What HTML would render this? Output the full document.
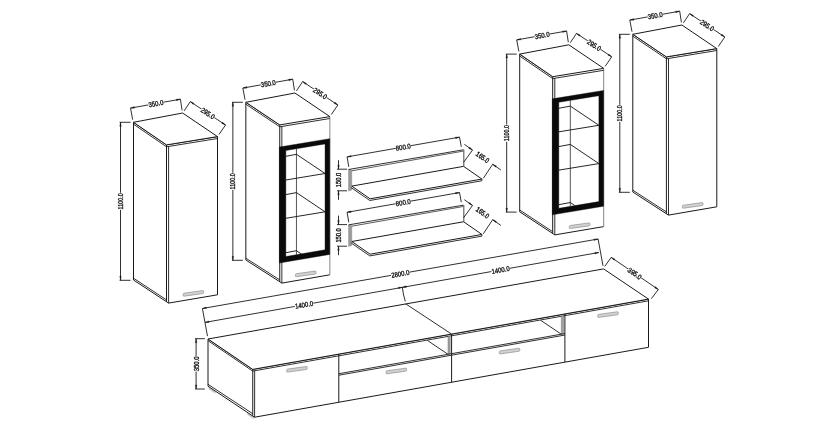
<!DOCTYPE html>
<html><head><meta charset="utf-8"><title>Furniture dimensions</title>
<style>
html,body{margin:0;padding:0;background:#fff;}
body{width:840px;height:430px;overflow:hidden;}
svg{display:block;}
svg text{font-family:"Liberation Sans",sans-serif;fill:#111;stroke:#111;stroke-width:0.34px;}
</style></head><body>
<svg width="840" height="430" viewBox="0 0 840 430" style="filter:grayscale(1)">
<rect width="840" height="430" fill="#fff"/>
<path d="M133.50 122.30 L133.50 280.00 L168.60 303.10 L217.50 294.80 L217.50 136.60 L166.50 144.90 Z" stroke="#1a1a1a" stroke-width="1.0" fill="#fff" />
<path d="M133.50 122.30 L182.60 113.00 L217.50 136.60 L166.50 144.90 Z" stroke="#1a1a1a" stroke-width="1.0" fill="#fff" />
<path d="M166.50 144.90 L166.50 301.70" stroke="#1a1a1a" stroke-width="1.0" fill="none" />
<path d="M133.50 124.20 L166.50 146.80 L217.50 138.50" stroke="#1a1a1a" stroke-width="0.9" fill="none" />
<path d="M133.50 278.20 L166.50 299.90" stroke="#1a1a1a" stroke-width="0.9" fill="none" />
<path d="M168.60 146.50 L168.60 303.10" stroke="#1a1a1a" stroke-width="0.9" fill="none" />
<path d="M184.10 293.20 L202.70 290.60 Q203.70 290.46 203.70 291.46 L203.70 292.46 Q203.70 293.46 202.70 293.60 L184.10 296.20 Q183.10 296.34 183.10 295.34 L183.10 294.34 Q183.10 293.34 184.10 293.20 Z" fill="#d2d2d2" stroke="#8c8c8c" stroke-width="0.7"/>
<path d="M132.70 119.70 L130.50 108.10" stroke="#1a1a1a" stroke-width="0.9" fill="none" />
<path d="M182.10 110.40 L180.40 99.20" stroke="#1a1a1a" stroke-width="0.9" fill="none" />
<path d="M130.50 108.10 L180.40 99.20" stroke="#1a1a1a" stroke-width="0.9" fill="none" />
<path d="M130.50 108.10 L134.58 108.19 L134.30 106.61 Z" stroke="#1a1a1a" stroke-width="0.3" fill="#1a1a1a" />
<path d="M180.40 99.20 L176.32 99.11 L176.60 100.69 Z" stroke="#1a1a1a" stroke-width="0.3" fill="#1a1a1a" />
<g transform="translate(155.95 103.56) rotate(-10.11)"><rect x="-7.73" y="-3.4" width="15.46" height="6.8" fill="#fff"/><text transform="scale(0.860 1)" x="0" y="2.5" text-anchor="middle" font-size="7.0">350.0</text></g>
<path d="M184.10 110.90 L190.30 101.60" stroke="#1a1a1a" stroke-width="0.9" fill="none" />
<path d="M219.00 134.50 L225.50 125.00" stroke="#1a1a1a" stroke-width="0.9" fill="none" />
<path d="M190.30 101.60 L225.50 125.00" stroke="#1a1a1a" stroke-width="0.9" fill="none" />
<path d="M190.30 101.60 L193.19 104.48 L194.07 103.15 Z" stroke="#1a1a1a" stroke-width="0.3" fill="#1a1a1a" />
<path d="M225.50 125.00 L222.61 122.12 L221.73 123.45 Z" stroke="#1a1a1a" stroke-width="0.3" fill="#1a1a1a" />
<g transform="translate(207.90 113.30) rotate(33.61)"><rect x="-7.73" y="-3.4" width="15.46" height="6.8" fill="#fff"/><text transform="scale(0.860 1)" x="0" y="2.5" text-anchor="middle" font-size="7.0">295.0</text></g>
<path d="M119.60 122.30 L130.50 122.30" stroke="#1a1a1a" stroke-width="0.9" fill="none" />
<path d="M119.60 280.30 L130.50 280.30" stroke="#1a1a1a" stroke-width="0.9" fill="none" />
<path d="M120.50 122.30 L120.50 280.30" stroke="#1a1a1a" stroke-width="0.9" fill="none" />
<path d="M120.50 122.30 L119.70 126.30 L121.30 126.30 Z" stroke="#1a1a1a" stroke-width="0.3" fill="#1a1a1a" />
<path d="M120.50 280.30 L121.30 276.30 L119.70 276.30 Z" stroke="#1a1a1a" stroke-width="0.3" fill="#1a1a1a" />
<g transform="translate(120.50 201.30) rotate(-90.00)"><rect x="-8.58" y="-3.4" width="17.15" height="6.8" fill="#fff"/><text transform="scale(0.783 1)" x="0" y="2.5" text-anchor="middle" font-size="7.0">1100.0</text></g>
<path d="M245.85 102.30 L245.85 260.00 L281.85 283.10 L329.85 274.80 L329.85 116.60 L279.75 124.90 Z" stroke="#1a1a1a" stroke-width="0" fill="#fff" />
<path d="M279.75 124.90 L245.85 102.30 L245.85 260.00 L281.85 283.10 L329.85 274.80" stroke="#1a1a1a" stroke-width="1.0" fill="none" />
<path d="M329.85 274.80 L329.85 116.60" stroke="#777" stroke-width="0.9" fill="none" />
<path d="M245.85 102.30 L294.95 93.00 L329.85 116.60 L279.75 124.90 Z" stroke="#1a1a1a" stroke-width="1.0" fill="#fff" />
<path d="M279.75 124.90 L279.75 281.70" stroke="#1a1a1a" stroke-width="1.0" fill="none" />
<path d="M245.85 104.20 L279.75 126.80 L329.85 118.50" stroke="#1a1a1a" stroke-width="0.9" fill="none" />
<path d="M245.85 258.20 L279.75 279.90" stroke="#1a1a1a" stroke-width="0.9" fill="none" />
<path d="M281.85 126.50 L281.85 283.10" stroke="#1a1a1a" stroke-width="0.9" fill="none" />
<clipPath id="clip245"><path d="M285.85 150.48 L325.05 143.93 L325.05 249.79 L285.85 256.52 Z"/></clipPath>
<g clip-path="url(#clip245)">
<path d="M296.45 122.30 L296.45 272.30" stroke="#555" stroke-width="1.0" fill="none" />
<path d="M283.85 180.33 L325.05 173.50 L296.45 154.30 L283.85 156.69" stroke="#1a1a1a" stroke-width="0.95" fill="none" />
<path d="M283.85 218.63 L325.05 211.80 L296.45 192.60 L283.85 194.99" stroke="#1a1a1a" stroke-width="0.95" fill="none" />
<path d="M283.85 276.73 L325.05 269.90 L296.45 250.70 L283.85 253.09" stroke="#1a1a1a" stroke-width="0.95" fill="none" />
</g>
<path d="M279.35 147.05 L329.75 138.64 L329.75 254.39 L279.35 263.06 Z M285.85 150.48 L285.85 256.52 L325.05 249.79 L325.05 143.93 Z" fill="#0a0a0a" fill-rule="evenodd" stroke="#0a0a0a" stroke-width="0.4"/>
<path d="M296.45 273.70 L315.05 271.10 Q316.05 270.96 316.05 271.96 L316.05 272.96 Q316.05 273.96 315.05 274.10 L296.45 276.70 Q295.45 276.84 295.45 275.84 L295.45 274.84 Q295.45 273.84 296.45 273.70 Z" fill="#d2d2d2" stroke="#8c8c8c" stroke-width="0.7"/>
<path d="M245.05 99.70 L242.85 88.10" stroke="#1a1a1a" stroke-width="0.9" fill="none" />
<path d="M294.45 90.40 L292.75 79.20" stroke="#1a1a1a" stroke-width="0.9" fill="none" />
<path d="M242.85 88.10 L292.75 79.20" stroke="#1a1a1a" stroke-width="0.9" fill="none" />
<path d="M242.85 88.10 L246.93 88.19 L246.65 86.61 Z" stroke="#1a1a1a" stroke-width="0.3" fill="#1a1a1a" />
<path d="M292.75 79.20 L288.67 79.11 L288.95 80.69 Z" stroke="#1a1a1a" stroke-width="0.3" fill="#1a1a1a" />
<g transform="translate(268.30 83.56) rotate(-10.11)"><rect x="-7.73" y="-3.4" width="15.46" height="6.8" fill="#fff"/><text transform="scale(0.860 1)" x="0" y="2.5" text-anchor="middle" font-size="7.0">350.0</text></g>
<path d="M296.45 90.90 L302.65 81.60" stroke="#1a1a1a" stroke-width="0.9" fill="none" />
<path d="M331.35 114.50 L337.85 105.00" stroke="#1a1a1a" stroke-width="0.9" fill="none" />
<path d="M302.65 81.60 L337.85 105.00" stroke="#1a1a1a" stroke-width="0.9" fill="none" />
<path d="M302.65 81.60 L305.54 84.48 L306.42 83.15 Z" stroke="#1a1a1a" stroke-width="0.3" fill="#1a1a1a" />
<path d="M337.85 105.00 L334.96 102.12 L334.08 103.45 Z" stroke="#1a1a1a" stroke-width="0.3" fill="#1a1a1a" />
<g transform="translate(320.25 93.30) rotate(33.61)"><rect x="-7.73" y="-3.4" width="15.46" height="6.8" fill="#fff"/><text transform="scale(0.860 1)" x="0" y="2.5" text-anchor="middle" font-size="7.0">295.0</text></g>
<path d="M231.95 102.30 L242.85 102.30" stroke="#1a1a1a" stroke-width="0.9" fill="none" />
<path d="M231.95 260.30 L242.85 260.30" stroke="#1a1a1a" stroke-width="0.9" fill="none" />
<path d="M232.85 102.30 L232.85 260.30" stroke="#1a1a1a" stroke-width="0.9" fill="none" />
<path d="M232.85 102.30 L232.05 106.30 L233.65 106.30 Z" stroke="#1a1a1a" stroke-width="0.3" fill="#1a1a1a" />
<path d="M232.85 260.30 L233.65 256.30 L232.05 256.30 Z" stroke="#1a1a1a" stroke-width="0.3" fill="#1a1a1a" />
<g transform="translate(232.85 181.30) rotate(-90.00)"><rect x="-8.58" y="-3.4" width="17.15" height="6.8" fill="#fff"/><text transform="scale(0.783 1)" x="0" y="2.5" text-anchor="middle" font-size="7.0">1100.0</text></g>
<path d="M519.70 54.10 L519.70 211.80 L554.80 234.90 L603.70 226.60 L603.70 68.40 L552.70 76.70 Z" stroke="#1a1a1a" stroke-width="0" fill="#fff" />
<path d="M552.70 76.70 L519.70 54.10 L519.70 211.80 L554.80 234.90 L603.70 226.60" stroke="#1a1a1a" stroke-width="1.0" fill="none" />
<path d="M603.70 226.60 L603.70 68.40" stroke="#777" stroke-width="0.9" fill="none" />
<path d="M519.70 54.10 L568.80 44.80 L603.70 68.40 L552.70 76.70 Z" stroke="#1a1a1a" stroke-width="1.0" fill="#fff" />
<path d="M552.70 76.70 L552.70 233.50" stroke="#1a1a1a" stroke-width="1.0" fill="none" />
<path d="M519.70 56.00 L552.70 78.60 L603.70 70.30" stroke="#1a1a1a" stroke-width="0.9" fill="none" />
<path d="M519.70 210.00 L552.70 231.70" stroke="#1a1a1a" stroke-width="0.9" fill="none" />
<path d="M554.80 78.30 L554.80 234.90" stroke="#1a1a1a" stroke-width="0.9" fill="none" />
<clipPath id="clip519"><path d="M558.80 102.29 L598.90 95.72 L598.90 201.58 L558.80 208.34 Z"/></clipPath>
<g clip-path="url(#clip519)">
<path d="M570.30 74.10 L570.30 224.10" stroke="#555" stroke-width="1.0" fill="none" />
<path d="M556.80 132.15 L598.90 125.30 L570.30 106.10 L556.80 108.66" stroke="#1a1a1a" stroke-width="0.95" fill="none" />
<path d="M556.80 170.45 L598.90 163.60 L570.30 144.40 L556.80 146.97" stroke="#1a1a1a" stroke-width="0.95" fill="none" />
<path d="M556.80 228.55 L598.90 221.70 L570.30 202.50 L556.80 205.06" stroke="#1a1a1a" stroke-width="0.95" fill="none" />
</g>
<path d="M552.30 98.84 L603.60 90.44 L603.60 206.19 L552.30 214.85 Z M558.80 102.29 L558.80 208.34 L598.90 201.58 L598.90 95.72 Z" fill="#0a0a0a" fill-rule="evenodd" stroke="#0a0a0a" stroke-width="0.4"/>
<path d="M570.30 225.50 L588.90 222.90 Q589.90 222.76 589.90 223.76 L589.90 224.76 Q589.90 225.76 588.90 225.90 L570.30 228.50 Q569.30 228.64 569.30 227.64 L569.30 226.64 Q569.30 225.64 570.30 225.50 Z" fill="#d2d2d2" stroke="#8c8c8c" stroke-width="0.7"/>
<path d="M518.90 51.50 L516.70 39.90" stroke="#1a1a1a" stroke-width="0.9" fill="none" />
<path d="M568.30 42.20 L566.60 31.00" stroke="#1a1a1a" stroke-width="0.9" fill="none" />
<path d="M516.70 39.90 L566.60 31.00" stroke="#1a1a1a" stroke-width="0.9" fill="none" />
<path d="M516.70 39.90 L520.78 39.99 L520.50 38.41 Z" stroke="#1a1a1a" stroke-width="0.3" fill="#1a1a1a" />
<path d="M566.60 31.00 L562.52 30.91 L562.80 32.49 Z" stroke="#1a1a1a" stroke-width="0.3" fill="#1a1a1a" />
<g transform="translate(542.15 35.36) rotate(-10.11)"><rect x="-7.73" y="-3.4" width="15.46" height="6.8" fill="#fff"/><text transform="scale(0.860 1)" x="0" y="2.5" text-anchor="middle" font-size="7.0">350.0</text></g>
<path d="M570.30 42.70 L576.50 33.40" stroke="#1a1a1a" stroke-width="0.9" fill="none" />
<path d="M605.20 66.30 L611.70 56.80" stroke="#1a1a1a" stroke-width="0.9" fill="none" />
<path d="M576.50 33.40 L611.70 56.80" stroke="#1a1a1a" stroke-width="0.9" fill="none" />
<path d="M576.50 33.40 L579.39 36.28 L580.27 34.95 Z" stroke="#1a1a1a" stroke-width="0.3" fill="#1a1a1a" />
<path d="M611.70 56.80 L608.81 53.92 L607.93 55.25 Z" stroke="#1a1a1a" stroke-width="0.3" fill="#1a1a1a" />
<g transform="translate(594.10 45.10) rotate(33.61)"><rect x="-7.73" y="-3.4" width="15.46" height="6.8" fill="#fff"/><text transform="scale(0.860 1)" x="0" y="2.5" text-anchor="middle" font-size="7.0">295.0</text></g>
<path d="M505.80 54.10 L516.70 54.10" stroke="#1a1a1a" stroke-width="0.9" fill="none" />
<path d="M505.80 212.10 L516.70 212.10" stroke="#1a1a1a" stroke-width="0.9" fill="none" />
<path d="M506.70 54.10 L506.70 212.10" stroke="#1a1a1a" stroke-width="0.9" fill="none" />
<path d="M506.70 54.10 L505.90 58.10 L507.50 58.10 Z" stroke="#1a1a1a" stroke-width="0.3" fill="#1a1a1a" />
<path d="M506.70 212.10 L507.50 208.10 L505.90 208.10 Z" stroke="#1a1a1a" stroke-width="0.3" fill="#1a1a1a" />
<g transform="translate(506.70 133.10) rotate(-90.00)"><rect x="-8.58" y="-3.4" width="17.15" height="6.8" fill="#fff"/><text transform="scale(0.783 1)" x="0" y="2.5" text-anchor="middle" font-size="7.0">1100.0</text></g>
<path d="M632.80 34.30 L632.80 192.00 L668.50 215.10 L716.80 206.80 L716.80 48.60 L666.40 56.90 Z" stroke="#1a1a1a" stroke-width="1.0" fill="#fff" />
<path d="M632.80 34.30 L681.90 25.00 L716.80 48.60 L666.40 56.90 Z" stroke="#1a1a1a" stroke-width="1.0" fill="#fff" />
<path d="M666.40 56.90 L666.40 213.70" stroke="#1a1a1a" stroke-width="1.0" fill="none" />
<path d="M632.80 36.20 L666.40 58.80 L716.80 50.50" stroke="#1a1a1a" stroke-width="0.9" fill="none" />
<path d="M632.80 190.20 L666.40 211.90" stroke="#1a1a1a" stroke-width="0.9" fill="none" />
<path d="M668.50 58.50 L668.50 215.10" stroke="#1a1a1a" stroke-width="0.9" fill="none" />
<path d="M683.40 205.20 L702.00 202.60 Q703.00 202.46 703.00 203.46 L703.00 204.46 Q703.00 205.46 702.00 205.60 L683.40 208.20 Q682.40 208.34 682.40 207.34 L682.40 206.34 Q682.40 205.34 683.40 205.20 Z" fill="#d2d2d2" stroke="#8c8c8c" stroke-width="0.7"/>
<path d="M632.00 31.70 L629.80 20.10" stroke="#1a1a1a" stroke-width="0.9" fill="none" />
<path d="M681.40 22.40 L679.70 11.20" stroke="#1a1a1a" stroke-width="0.9" fill="none" />
<path d="M629.80 20.10 L679.70 11.20" stroke="#1a1a1a" stroke-width="0.9" fill="none" />
<path d="M629.80 20.10 L633.88 20.19 L633.60 18.61 Z" stroke="#1a1a1a" stroke-width="0.3" fill="#1a1a1a" />
<path d="M679.70 11.20 L675.62 11.11 L675.90 12.69 Z" stroke="#1a1a1a" stroke-width="0.3" fill="#1a1a1a" />
<g transform="translate(655.25 15.56) rotate(-10.11)"><rect x="-7.73" y="-3.4" width="15.46" height="6.8" fill="#fff"/><text transform="scale(0.860 1)" x="0" y="2.5" text-anchor="middle" font-size="7.0">350.0</text></g>
<path d="M683.40 22.90 L689.60 13.60" stroke="#1a1a1a" stroke-width="0.9" fill="none" />
<path d="M718.30 46.50 L724.80 37.00" stroke="#1a1a1a" stroke-width="0.9" fill="none" />
<path d="M689.60 13.60 L724.80 37.00" stroke="#1a1a1a" stroke-width="0.9" fill="none" />
<path d="M689.60 13.60 L692.49 16.48 L693.37 15.15 Z" stroke="#1a1a1a" stroke-width="0.3" fill="#1a1a1a" />
<path d="M724.80 37.00 L721.91 34.12 L721.03 35.45 Z" stroke="#1a1a1a" stroke-width="0.3" fill="#1a1a1a" />
<g transform="translate(707.20 25.30) rotate(33.61)"><rect x="-7.73" y="-3.4" width="15.46" height="6.8" fill="#fff"/><text transform="scale(0.860 1)" x="0" y="2.5" text-anchor="middle" font-size="7.0">295.0</text></g>
<path d="M618.90 34.30 L629.80 34.30" stroke="#1a1a1a" stroke-width="0.9" fill="none" />
<path d="M618.90 192.30 L629.80 192.30" stroke="#1a1a1a" stroke-width="0.9" fill="none" />
<path d="M619.80 34.30 L619.80 192.30" stroke="#1a1a1a" stroke-width="0.9" fill="none" />
<path d="M619.80 34.30 L619.00 38.30 L620.60 38.30 Z" stroke="#1a1a1a" stroke-width="0.3" fill="#1a1a1a" />
<path d="M619.80 192.30 L620.60 188.30 L619.00 188.30 Z" stroke="#1a1a1a" stroke-width="0.3" fill="#1a1a1a" />
<g transform="translate(619.80 113.30) rotate(-90.00)"><rect x="-8.58" y="-3.4" width="17.15" height="6.8" fill="#fff"/><text transform="scale(0.783 1)" x="0" y="2.5" text-anchor="middle" font-size="7.0">1100.0</text></g>
<path d="M348.50 169.50 L351.80 170.10 L351.80 190.10 L348.50 191.10 Z" fill="#999" stroke="#888" stroke-width="0.4"/>
<path d="M348.50 169.50 L463.60 149.75" stroke="#1a1a1a" stroke-width="0.9" fill="none" />
<path d="M351.80 170.80 L463.60 151.05" stroke="#333" stroke-width="0.8" fill="none" />
<path d="M463.80 149.75 L463.80 166.35" stroke="#666" stroke-width="1.2" fill="none" />
<path d="M351.80 186.10 L463.60 166.35 L481.90 179.05 L370.10 198.80 Z" stroke="#1a1a1a" stroke-width="1.0" fill="none" />
<path d="M351.20 187.60 L369.80 200.50 L481.90 180.75 L481.90 179.05" stroke="#1a1a1a" stroke-width="0.9" fill="none" />
<path d="M348.80 166.90 L347.10 156.90" stroke="#1a1a1a" stroke-width="0.9" fill="none" />
<path d="M461.30 146.75 L459.50 137.15" stroke="#1a1a1a" stroke-width="0.9" fill="none" />
<path d="M347.10 156.90 L459.50 137.15" stroke="#1a1a1a" stroke-width="0.9" fill="none" />
<path d="M347.10 156.90 L351.18 157.00 L350.90 155.42 Z" stroke="#1a1a1a" stroke-width="0.3" fill="#1a1a1a" />
<path d="M459.50 137.15 L455.42 137.06 L455.70 138.63 Z" stroke="#1a1a1a" stroke-width="0.3" fill="#1a1a1a" />
<g transform="translate(403.30 147.03) rotate(-9.96)"><rect x="-7.73" y="-3.4" width="15.46" height="6.8" fill="#fff"/><text transform="scale(0.860 1)" x="0" y="2.5" text-anchor="middle" font-size="7.0">800.0</text></g>
<path d="M463.60 162.35 L472.50 150.05" stroke="#1a1a1a" stroke-width="0.9" fill="none" />
<path d="M483.30 178.35 L492.70 164.25" stroke="#1a1a1a" stroke-width="0.9" fill="none" />
<path d="M464.32 144.30 L472.50 150.05" stroke="#1a1a1a" stroke-width="0.9" fill="none" />
<path d="M492.70 164.25 L500.88 170.01" stroke="#1a1a1a" stroke-width="0.9" fill="none" />
<path d="M472.50 150.05 L469.69 147.10 L468.77 148.41 Z" stroke="#1a1a1a" stroke-width="0.3" fill="#1a1a1a" />
<path d="M492.70 164.25 L495.51 167.21 L496.43 165.90 Z" stroke="#1a1a1a" stroke-width="0.3" fill="#1a1a1a" />
<g transform="translate(482.60 157.15) rotate(35.11)"><text transform="scale(0.826 1)" x="0" y="2.5" text-anchor="middle" font-size="7.0">165.0</text></g>
<path d="M337.00 169.20 L347.00 169.20" stroke="#1a1a1a" stroke-width="0.9" fill="none" />
<path d="M337.00 190.80 L347.00 190.80" stroke="#1a1a1a" stroke-width="0.9" fill="none" />
<path d="M338.50 160.20 L338.50 169.20" stroke="#1a1a1a" stroke-width="0.9" fill="none" />
<path d="M338.50 190.80 L338.50 199.80" stroke="#1a1a1a" stroke-width="0.9" fill="none" />
<path d="M338.50 169.20 L339.30 165.20 L337.70 165.20 Z" stroke="#1a1a1a" stroke-width="0.3" fill="#1a1a1a" />
<path d="M338.50 190.80 L337.70 194.80 L339.30 194.80 Z" stroke="#1a1a1a" stroke-width="0.3" fill="#1a1a1a" />
<g transform="translate(338.50 180.00) rotate(-90.00)"><text transform="scale(0.826 1)" x="0" y="2.5" text-anchor="middle" font-size="7.0">150.0</text></g>
<path d="M348.50 224.90 L351.80 225.50 L351.80 245.50 L348.50 246.50 Z" fill="#999" stroke="#888" stroke-width="0.4"/>
<path d="M348.50 224.90 L463.60 205.15" stroke="#1a1a1a" stroke-width="0.9" fill="none" />
<path d="M351.80 226.20 L463.60 206.45" stroke="#333" stroke-width="0.8" fill="none" />
<path d="M463.80 205.15 L463.80 221.75" stroke="#666" stroke-width="1.2" fill="none" />
<path d="M351.80 241.50 L463.60 221.75 L481.90 234.45 L370.10 254.20 Z" stroke="#1a1a1a" stroke-width="1.0" fill="none" />
<path d="M351.20 243.00 L369.80 255.90 L481.90 236.15 L481.90 234.45" stroke="#1a1a1a" stroke-width="0.9" fill="none" />
<path d="M348.80 222.30 L347.10 212.30" stroke="#1a1a1a" stroke-width="0.9" fill="none" />
<path d="M461.30 202.15 L459.50 192.55" stroke="#1a1a1a" stroke-width="0.9" fill="none" />
<path d="M347.10 212.30 L459.50 192.55" stroke="#1a1a1a" stroke-width="0.9" fill="none" />
<path d="M347.10 212.30 L351.18 212.40 L350.90 210.82 Z" stroke="#1a1a1a" stroke-width="0.3" fill="#1a1a1a" />
<path d="M459.50 192.55 L455.42 192.46 L455.70 194.03 Z" stroke="#1a1a1a" stroke-width="0.3" fill="#1a1a1a" />
<g transform="translate(403.30 202.43) rotate(-9.96)"><rect x="-7.73" y="-3.4" width="15.46" height="6.8" fill="#fff"/><text transform="scale(0.860 1)" x="0" y="2.5" text-anchor="middle" font-size="7.0">800.0</text></g>
<path d="M463.60 217.75 L472.50 205.45" stroke="#1a1a1a" stroke-width="0.9" fill="none" />
<path d="M483.30 233.75 L492.70 219.65" stroke="#1a1a1a" stroke-width="0.9" fill="none" />
<path d="M464.32 199.70 L472.50 205.45" stroke="#1a1a1a" stroke-width="0.9" fill="none" />
<path d="M492.70 219.65 L500.88 225.41" stroke="#1a1a1a" stroke-width="0.9" fill="none" />
<path d="M472.50 205.45 L469.69 202.50 L468.77 203.81 Z" stroke="#1a1a1a" stroke-width="0.3" fill="#1a1a1a" />
<path d="M492.70 219.65 L495.51 222.61 L496.43 221.30 Z" stroke="#1a1a1a" stroke-width="0.3" fill="#1a1a1a" />
<g transform="translate(482.60 212.55) rotate(35.11)"><text transform="scale(0.826 1)" x="0" y="2.5" text-anchor="middle" font-size="7.0">165.0</text></g>
<path d="M337.00 224.60 L347.00 224.60" stroke="#1a1a1a" stroke-width="0.9" fill="none" />
<path d="M337.00 246.20 L347.00 246.20" stroke="#1a1a1a" stroke-width="0.9" fill="none" />
<path d="M338.50 215.60 L338.50 224.60" stroke="#1a1a1a" stroke-width="0.9" fill="none" />
<path d="M338.50 246.20 L338.50 255.20" stroke="#1a1a1a" stroke-width="0.9" fill="none" />
<path d="M338.50 224.60 L339.30 220.60 L337.70 220.60 Z" stroke="#1a1a1a" stroke-width="0.3" fill="#1a1a1a" />
<path d="M338.50 246.20 L337.70 250.20 L339.30 250.20 Z" stroke="#1a1a1a" stroke-width="0.3" fill="#1a1a1a" />
<g transform="translate(338.50 235.40) rotate(-90.00)"><text transform="scale(0.826 1)" x="0" y="2.5" text-anchor="middle" font-size="7.0">150.0</text></g>
<path d="M209.00 387.00 l6.2 4.1 l0 2.0 l-6.2 -4.1 z" fill="#c6c6c6" stroke="#c6c6c6" stroke-width="0.8" stroke-linejoin="round"/>
<path d="M247.60 412.60 l6.2 4.1 l0 2.0 l-6.2 -4.1 z" fill="#c6c6c6" stroke="#c6c6c6" stroke-width="0.8" stroke-linejoin="round"/>
<path d="M208.00 339.00 L208.00 386.20 L254.60 417.20 L648.50 347.30 L648.50 299.10 L252.76 369.40 Z" stroke="#1a1a1a" stroke-width="1.0" fill="#fff" />
<path d="M208.00 339.00 L603.60 268.90 L648.50 299.10 L252.76 369.40 Z" stroke="#1a1a1a" stroke-width="1.0" fill="#fff" />
<path d="M252.76 369.40 L252.76 415.60" stroke="#1a1a1a" stroke-width="1.0" fill="none" />
<path d="M208.00 340.70 L252.76 371.10 L648.50 300.80" stroke="#1a1a1a" stroke-width="0.9" fill="none" />
<path d="M208.00 384.30 L252.76 413.70" stroke="#1a1a1a" stroke-width="0.9" fill="none" />
<path d="M405.80 303.95 L451.60 334.09" stroke="#1a1a1a" stroke-width="0.9" fill="none" />
<path d="M254.66 370.76 L254.60 417.20" stroke="#1a1a1a" stroke-width="0.9" fill="none" />
<path d="M448.00 336.43 L450.20 336.03 L450.20 353.93 L448.00 354.33 Z" fill="#a0a0a0" stroke="#777" stroke-width="0.5"/>
<path d="M338.80 373.72 L451.60 353.69" stroke="#1a1a1a" stroke-width="0.9" fill="none" />
<path d="M338.80 375.22 L451.60 355.19" stroke="#1a1a1a" stroke-width="0.9" fill="none" />
<path d="M448.00 354.33 L427.35 340.39" stroke="#1a1a1a" stroke-width="0.9" fill="none" />
<path d="M561.30 316.30 L563.50 315.91 L563.50 333.81 L561.30 334.20 Z" fill="#a0a0a0" stroke="#777" stroke-width="0.5"/>
<path d="M451.60 353.69 L564.90 333.56" stroke="#1a1a1a" stroke-width="0.9" fill="none" />
<path d="M451.60 355.19 L564.90 335.06" stroke="#1a1a1a" stroke-width="0.9" fill="none" />
<path d="M561.30 334.20 L540.65 320.27" stroke="#1a1a1a" stroke-width="0.9" fill="none" />
<path d="M338.80 354.12 L338.80 402.22" stroke="#1a1a1a" stroke-width="1.0" fill="none" />
<path d="M451.60 334.09 L451.60 382.19" stroke="#1a1a1a" stroke-width="1.0" fill="none" />
<path d="M564.90 313.96 L564.90 362.06" stroke="#1a1a1a" stroke-width="1.0" fill="none" />
<path d="M287.70 369.10 L306.30 366.50 Q307.30 366.36 307.30 367.36 L307.30 368.36 Q307.30 369.36 306.30 369.50 L287.70 372.10 Q286.70 372.24 286.70 371.24 L286.70 370.24 Q286.70 369.24 287.70 369.10 Z" fill="#d2d2d2" stroke="#8c8c8c" stroke-width="0.7"/>
<path d="M387.00 370.80 L405.60 368.20 Q406.60 368.06 406.60 369.06 L406.60 370.06 Q406.60 371.06 405.60 371.20 L387.00 373.80 Q386.00 373.94 386.00 372.94 L386.00 371.94 Q386.00 370.94 387.00 370.80 Z" fill="#d2d2d2" stroke="#8c8c8c" stroke-width="0.7"/>
<path d="M500.20 350.90 L518.80 348.30 Q519.80 348.16 519.80 349.16 L519.80 350.16 Q519.80 351.16 518.80 351.30 L500.20 353.90 Q499.20 354.04 499.20 353.04 L499.20 352.04 Q499.20 351.04 500.20 350.90 Z" fill="#d2d2d2" stroke="#8c8c8c" stroke-width="0.7"/>
<path d="M598.70 314.40 L617.30 311.80 Q618.30 311.66 618.30 312.66 L618.30 313.66 Q618.30 314.66 617.30 314.80 L598.70 317.40 Q597.70 317.54 597.70 316.54 L597.70 315.54 Q597.70 314.54 598.70 314.40 Z" fill="#d2d2d2" stroke="#8c8c8c" stroke-width="0.7"/>
<path d="M195.00 338.70 L204.80 338.70" stroke="#1a1a1a" stroke-width="0.9" fill="none" />
<path d="M195.00 389.00 L204.80 389.00" stroke="#1a1a1a" stroke-width="0.9" fill="none" />
<path d="M196.10 338.70 L196.10 389.00" stroke="#1a1a1a" stroke-width="0.9" fill="none" />
<path d="M196.10 338.70 L195.30 342.70 L196.90 342.70 Z" stroke="#1a1a1a" stroke-width="0.3" fill="#1a1a1a" />
<path d="M196.10 389.00 L196.90 385.00 L195.30 385.00 Z" stroke="#1a1a1a" stroke-width="0.3" fill="#1a1a1a" />
<g transform="translate(196.10 363.85) rotate(-90.00)"><rect x="-7.73" y="-3.4" width="15.46" height="6.8" fill="#fff"/><text transform="scale(0.860 1)" x="0" y="2.5" text-anchor="middle" font-size="7.0">350.0</text></g>
<path d="M207.50 336.20 L202.40 308.50" stroke="#1a1a1a" stroke-width="0.9" fill="none" />
<path d="M603.00 265.90 L598.10 239.00" stroke="#1a1a1a" stroke-width="0.9" fill="none" />
<path d="M202.40 308.50 L598.10 239.00" stroke="#1a1a1a" stroke-width="0.9" fill="none" />
<path d="M202.40 308.50 L206.48 308.60 L206.20 307.02 Z" stroke="#1a1a1a" stroke-width="0.3" fill="#1a1a1a" />
<path d="M598.10 239.00 L594.02 238.90 L594.30 240.48 Z" stroke="#1a1a1a" stroke-width="0.3" fill="#1a1a1a" />
<g transform="translate(400.25 273.75) rotate(-9.96)"><rect x="-9.40" y="-3.4" width="18.81" height="6.8" fill="#fff"/><text transform="scale(0.860 1)" x="0" y="2.5" text-anchor="middle" font-size="7.0">2800.0</text></g>
<path d="M205.00 322.40 L598.80 252.50" stroke="#1a1a1a" stroke-width="0.9" fill="none" />
<path d="M405.30 301.35 L403.60 295.00 L402.30 287.30" stroke="#1a1a1a" stroke-width="0.9" fill="none" />
<path d="M205.00 322.40 L209.08 322.49 L208.80 320.91 Z" stroke="#1a1a1a" stroke-width="0.3" fill="#1a1a1a" />
<path d="M598.80 252.50 L594.72 252.41 L595.00 253.99 Z" stroke="#1a1a1a" stroke-width="0.3" fill="#1a1a1a" />
<path d="M402.30 287.30 L406.38 287.39 L406.10 285.81 Z" stroke="#1a1a1a" stroke-width="0.3" fill="#1a1a1a" />
<path d="M402.30 287.30 L398.22 287.21 L398.50 288.79 Z" stroke="#1a1a1a" stroke-width="0.3" fill="#1a1a1a" />
<g transform="translate(304.04 304.78) rotate(-10.07)"><rect x="-9.40" y="-3.4" width="18.81" height="6.8" fill="#fff"/><text transform="scale(0.860 1)" x="0" y="2.5" text-anchor="middle" font-size="7.0">1400.0</text></g>
<g transform="translate(500.55 269.90) rotate(-10.07)"><rect x="-9.40" y="-3.4" width="18.81" height="6.8" fill="#fff"/><text transform="scale(0.860 1)" x="0" y="2.5" text-anchor="middle" font-size="7.0">1400.0</text></g>
<path d="M604.60 266.50 L611.20 257.40" stroke="#1a1a1a" stroke-width="0.9" fill="none" />
<path d="M651.40 298.60 L658.30 289.50" stroke="#1a1a1a" stroke-width="0.9" fill="none" />
<path d="M611.20 257.40 L658.30 289.50" stroke="#1a1a1a" stroke-width="0.9" fill="none" />
<path d="M611.20 257.40 L614.05 260.31 L614.96 258.99 Z" stroke="#1a1a1a" stroke-width="0.3" fill="#1a1a1a" />
<path d="M658.30 289.50 L655.45 286.59 L654.54 287.91 Z" stroke="#1a1a1a" stroke-width="0.3" fill="#1a1a1a" />
<g transform="translate(634.75 273.45) rotate(34.28)"><rect x="-7.73" y="-3.4" width="15.46" height="6.8" fill="#fff"/><text transform="scale(0.860 1)" x="0" y="2.5" text-anchor="middle" font-size="7.0">395.0</text></g>
</svg>
</body></html>
